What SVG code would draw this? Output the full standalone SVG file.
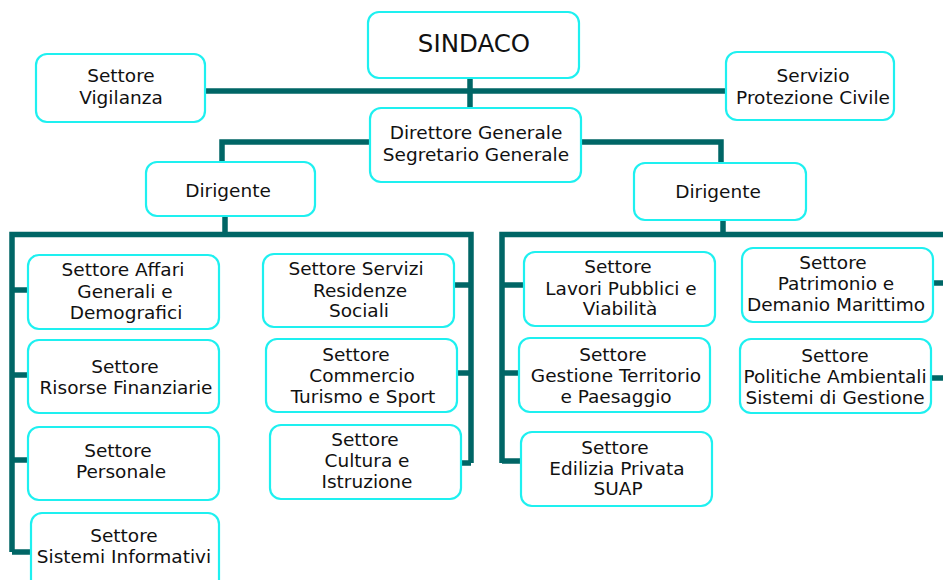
<svg xmlns="http://www.w3.org/2000/svg" width="943" height="580" viewBox="0 0 943 580">
<style>
.box{fill:#fff;stroke:#1ef0f0;stroke-width:2.2}
.t{font-family:"DejaVu Sans",Verdana,sans-serif;font-size:18.5px;fill:#111;text-anchor:middle}
.c{fill:none;stroke:#006666;stroke-width:5.5;stroke-linecap:butt}
</style>
<rect width="943" height="580" fill="#fff"/>
<g id="connectors">
<path class="c" d="M204 91H725M470 78V108"/>
<path class="c" d="M370 142H222V162M581 142H721V163"/>
<path class="c" d="M225 216V234.5M723 220V234.5"/>
<path class="c" d="M12 552V234.5H471V463"/>
<path class="c" d="M12 290H28M12 375H28M12 460H28M12 552H31"/>
<path class="c" d="M454 285H471M457 373H471M461 463H471"/>
<path class="c" d="M502 463V234.5H943"/>
<path class="c" d="M502 285H524M502 373H519M502 461H521"/>
<path class="c" d="M933 283H943M931 378H943"/>
</g>
<g id="sindaco"><rect class="box" x="368" y="12" width="211" height="66" rx="11"/><text class="t" x="474" y="52" style="font-size:24.5px">SINDACO</text></g>
<g id="vigilanza"><rect class="box" x="36" y="54" width="169" height="68" rx="11"/><text class="t" x="121" y="82">Settore</text><text class="t" x="121" y="104">Vigilanza</text></g>
<g id="protezione"><rect class="box" x="726" y="52" width="168" height="68" rx="11"/><text class="t" x="813" y="82">Servizio</text><text class="t" x="813" y="104">Protezione Civile</text></g>
<g id="direttore"><rect class="box" x="370" y="108" width="211" height="74" rx="11"/><text class="t" x="476" y="139">Direttore Generale</text><text class="t" x="476" y="161">Segretario Generale</text></g>
<g id="dirigente1"><rect class="box" x="146" y="162" width="169" height="54" rx="11"/><text class="t" x="228" y="197">Dirigente</text></g>
<g id="dirigente2"><rect class="box" x="634" y="163" width="172" height="57" rx="11"/><text class="t" x="718" y="198">Dirigente</text></g>
<g id="affari"><rect class="box" x="28" y="255" width="191" height="74" rx="11"/><text class="t" x="123" y="276">Settore Affari</text><text class="t" x="125" y="298">Generali e</text><text class="t" x="126" y="319">Demografici</text></g>
<g id="risorse"><rect class="box" x="28" y="340" width="191" height="73" rx="11"/><text class="t" x="125" y="373">Settore</text><text class="t" x="126" y="394">Risorse Finanziarie</text></g>
<g id="personale"><rect class="box" x="28" y="427" width="191" height="73" rx="11"/><text class="t" x="118" y="457">Settore</text><text class="t" x="121" y="478">Personale</text></g>
<g id="sistemi"><rect class="box" x="31" y="513" width="188" height="80" rx="11"/><text class="t" x="124" y="542">Settore</text><text class="t" x="124" y="563">Sistemi Informativi</text></g>
<g id="servizi"><rect class="box" x="263" y="254" width="191" height="73" rx="11"/><text class="t" x="356" y="275">Settore Servizi</text><text class="t" x="360" y="297">Residenze</text><text class="t" x="359" y="317">Sociali</text></g>
<g id="commercio"><rect class="box" x="266" y="339" width="191" height="73" rx="11"/><text class="t" x="356" y="361">Settore</text><text class="t" x="362" y="382">Commercio</text><text class="t" x="363" y="403">Turismo e Sport</text></g>
<g id="cultura"><rect class="box" x="270" y="425" width="191" height="74" rx="11"/><text class="t" x="365" y="446">Settore</text><text class="t" x="367" y="467">Cultura e</text><text class="t" x="367" y="488">Istruzione</text></g>
<g id="lavori"><rect class="box" x="524" y="252" width="191" height="74" rx="11"/><text class="t" x="618" y="273">Settore</text><text class="t" x="621" y="295">Lavori Pubblici e</text><text class="t" x="620" y="315">Viabilità</text></g>
<g id="gestione"><rect class="box" x="519" y="338" width="191" height="74" rx="11"/><text class="t" x="613" y="361">Settore</text><text class="t" x="616" y="382">Gestione Territorio</text><text class="t" x="616" y="403">e Paesaggio</text></g>
<g id="edilizia"><rect class="box" x="521" y="432" width="191" height="74" rx="11"/><text class="t" x="615" y="454">Settore</text><text class="t" x="617" y="475">Edilizia Privata</text><text class="t" x="618" y="495">SUAP</text></g>
<g id="patrimonio"><rect class="box" x="742" y="248" width="191" height="74" rx="11"/><text class="t" x="833" y="269">Settore</text><text class="t" x="836" y="290">Patrimonio e</text><text class="t" x="836" y="311">Demanio Marittimo</text></g>
<g id="politiche"><rect class="box" x="740" y="339" width="191" height="74" rx="11"/><text class="t" x="835" y="362">Settore</text><text class="t" x="835" y="383">Politiche Ambientali</text><text class="t" x="835" y="404">Sistemi di Gestione</text></g>
</svg>
